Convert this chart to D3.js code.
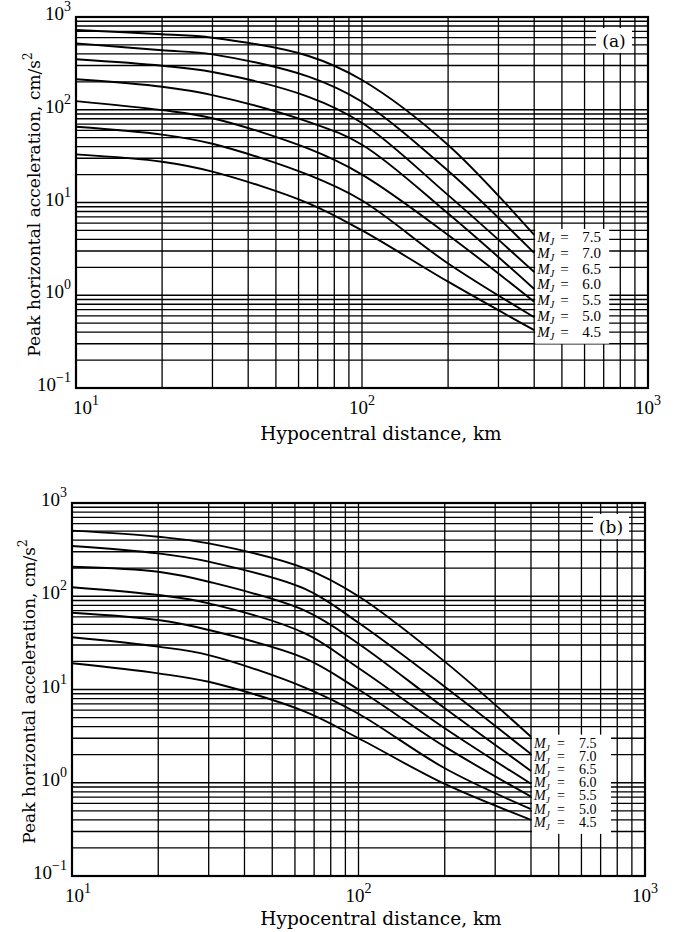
<!DOCTYPE html>
<html>
<head>
<meta charset="utf-8">
<script src="https://cdnjs.cloudflare.com/ajax/libs/d3/7.8.5/d3.min.js"></script>
<style>
  body { margin: 0; background: #fff; }
  svg { display: block; }
  .grid line { stroke: #000; stroke-width: 1.3; }
  .curve { fill: none; stroke: #000; stroke-width: 1.9; }
  .title { font-family: 'DejaVu Serif', serif; fill: #000; }
  .tick { font-family: 'Liberation Serif', serif; font-size: 19px; fill: #000; }
  .mag { font-family: 'Liberation Serif', serif; fill: #000; }
</style>
</head>
<body>
<div id="graphicContainer"></div>
<script>
const distances = [10, 20, 30, 65, 100, 200, 400];
const magnitudes = ['7.5', '7.0', '6.5', '6.0', '5.5', '5.0', '4.5'];

// peak horizontal acceleration (cm/s^2), one row per magnitude, panel (a)
const pgaA = [
  [724, 651, 598, 380, 209, 41.7, 4.47],
  [520, 438, 396, 228, 122, 22, 2.86],
  [350, 298, 255, 138, 72, 12, 1.78],
  [213, 177, 144, 74, 42, 7.6, 1.17],
  [124, 99, 81, 38, 20, 4.47, 0.85],
  [65.6, 54, 43, 19.8, 10.5, 2.2, 0.58],
  [33, 27.5, 21.5, 9.8, 5.0, 1.4, 0.42],
];
// panel (b)
const pgaB = [
  [505, 435, 369, 199, 100, 19.9, 3.12],
  [346, 288, 235, 120, 52, 10.7, 2.03],
  [207, 183, 143, 70, 31, 6.3, 1.34],
  [125, 103, 84, 40, 17, 3.84, 0.975],
  [66.6, 55.6, 43.5, 21.6, 10, 2.44, 0.71],
  [36.3, 28.8, 23.4, 10.5, 5.5, 1.43, 0.52],
  [19.1, 14.9, 12.1, 5.8, 3.0, 0.97, 0.40],
];

const xDomain = [10, 1000];
const yDomain = [0.1, 1000];
const xTickExp = [1, 2, 3];
const yTickExp = [-1, 0, 1, 2, 3];

const Width = 674, Height = 932;
const panels = [
  { data: pgaA, tag: '(a)', l: 76, r: 648, t: 17, b: 388, yTitleX: 40, xTitleOff: 52, labelStep: 15.8, labelOff: 7, boxW: 74, magSize: 15, xShift: 10 },
  { data: pgaB, tag: '(b)', l: 72, r: 645, t: 503, b: 876, yTitleX: 35, xTitleOff: 49, labelStep: 13.2, labelOff: 11, boxW: 79, magSize: 14, xShift: 6 },
];

const svg = d3.select('#graphicContainer')
  .append('svg')
  .attr('width', Width)
  .attr('height', Height);

panels.forEach(p => drawPanel(p));

function drawPanel(p) {
  const x = d3.scaleLog().domain(xDomain).range([p.l, p.r]);
  const y = d3.scaleLog().domain(yDomain).range([p.b, p.t]);
  const g = svg.append('g');

  // log grid
  const grid = g.append('g').attr('class', 'grid');
  grid.selectAll('.hl')
    .data(y.ticks())
    .enter().append('line')
    .attr('x1', p.l).attr('x2', p.r)
    .attr('y1', d => y(d)).attr('y2', d => y(d));
  grid.selectAll('.vl')
    .data(x.ticks())
    .enter().append('line')
    .attr('y1', p.t).attr('y2', p.b)
    .attr('x1', d => x(d)).attr('x2', d => x(d));

  // white box behind the magnitude labels
  const last = distances[distances.length - 1];
  const topEnd = y(p.data[0][p.data[0].length - 1]);
  const labelY = magnitudes.map((m, i) => topEnd + p.labelOff + i * p.labelStep);
  g.append('rect')
    .attr('x', x(last) + 1)
    .attr('y', labelY[0] - 13)
    .attr('width', p.boxW)
    .attr('height', labelY[labelY.length - 1] - labelY[0] + 20)
    .attr('fill', '#fff');

  // panel tag box
  g.append('rect')
    .attr('x', p.r - 52).attr('y', p.t + 11)
    .attr('width', 36).attr('height', 25)
    .attr('fill', '#fff');
  g.append('text')
    .attr('class', 'title')
    .attr('x', p.r - 34).attr('y', p.t + 30)
    .attr('text-anchor', 'middle')
    .style('font-size', '17px')
    .text(p.tag);

  // attenuation curves
  const line = d3.line()
    .x((d, i) => x(distances[i]))
    .y(d => y(d))
    .curve(d3.curveCatmullRom.alpha(0.5));
  g.selectAll('.curve')
    .data(p.data)
    .enter().append('path')
    .attr('class', 'curve')
    .attr('d', d => line(d));

  // magnitude labels
  const x0 = x(last) + 3;
  const mag = g.selectAll('.mag')
    .data(magnitudes)
    .enter().append('text')
    .attr('class', 'mag')
    .style('font-size', p.magSize + 'px')
    .attr('x', x0)
    .attr('y', (d, i) => labelY[i]);
  mag.append('tspan').style('font-style', 'italic').text('M');
  mag.append('tspan').style('font-style', 'italic').style('font-size', (p.magSize - 5) + 'px').attr('dy', 3).text('J');
  mag.append('tspan').attr('dy', -3).attr('x', x0 + 23).text('=');
  mag.append('tspan').attr('x', x0 + 45).text(d => d);

  // frame
  g.append('rect')
    .attr('x', p.l).attr('y', p.t)
    .attr('width', p.r - p.l).attr('height', p.b - p.t)
    .attr('fill', 'none')
    .attr('stroke', '#000')
    .attr('stroke-width', 2.2);

  // y tick labels
  const yt = g.selectAll('.ytick')
    .data(yTickExp)
    .enter().append('text')
    .attr('class', 'tick')
    .attr('text-anchor', 'end')
    .attr('x', p.l - 5)
    .attr('y', d => y(Math.pow(10, d)) + 3);
  yt.append('tspan').text('10');
  yt.append('tspan').attr('dy', -9).style('font-size', '14px').text(d => d < 0 ? '\u2212' + (-d) : d);

  // x tick labels
  const xt = g.selectAll('.xtick')
    .data(xTickExp)
    .enter().append('text')
    .attr('class', 'tick')
    .attr('text-anchor', 'middle')
    .attr('x', (d, i) => x(Math.pow(10, d)) + (i === 0 ? p.xShift : 0))
    .attr('y', p.b + 26);
  xt.append('tspan').text('10');
  xt.append('tspan').attr('dy', -9).style('font-size', '14px').text(d => d);

  // axis titles
  g.append('text')
    .attr('class', 'title')
    .style('font-size', '18.5px')
    .attr('text-anchor', 'middle')
    .attr('x', 381)
    .attr('y', p.b + p.xTitleOff)
    .text('Hypocentral distance, km');

  const yTitle = g.append('text')
    .attr('class', 'title')
    .style('font-size', '17px')
    .attr('text-anchor', 'middle')
    .attr('transform', `translate(${p.yTitleX}, ${(p.t + p.b) / 2 + 2}) rotate(-90)`);
  yTitle.append('tspan').text('Peak horizontal acceleration, cm/s');
  yTitle.append('tspan').attr('dy', -8).style('font-size', '12px').text('2');
}
</script>
</body>
</html>
